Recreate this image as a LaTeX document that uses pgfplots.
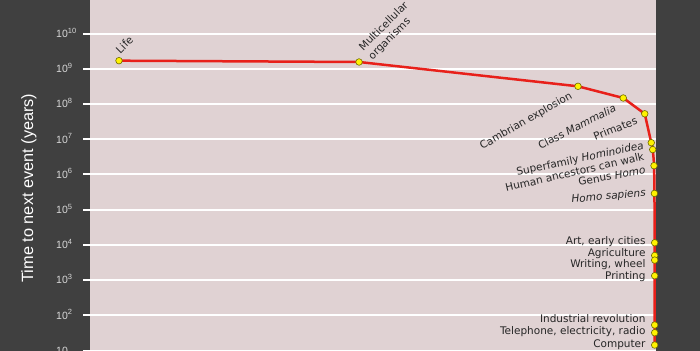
\documentclass[border=0pt]{standalone}
\usepackage{fontspec}
\setmainfont{DejaVu Sans}
\newfontfamily\arial{Liberation Sans}
\usepackage{pgfplots}
\pgfplotsset{compat=1.18}
\usetikzlibrary{calc}
\definecolor{bgdark}{HTML}{404040}
\definecolor{plotbg}{HTML}{E0D2D3}
\definecolor{linered}{HTML}{E8201A}
\definecolor{txt}{HTML}{262626}
\definecolor{ticktxt}{HTML}{D8D8D8}
\definecolor{markedge}{HTML}{6E6A00}
\newcommand{\ex}[1]{10\raisebox{0.42em}{\fontsize{7.5bp}{7.5bp}\selectfont #1}}
\tikzset{
  lbl/.style={font=\fontsize{10.5bp}{12.5bp}\selectfont, text=txt, inner sep=0.5bp, text height=7.7bp, text depth=2.2bp},
  lblm/.style={font=\fontsize{10.5bp}{13bp}\selectfont, text=txt, inner sep=0.5bp, align=left},
}
\begin{document}
\begin{tikzpicture}
\useasboundingbox (0,0) rectangle (700bp,351bp);
\clip (0,0) rectangle (700bp,351bp);
\fill[bgdark] (0,0) rectangle (700bp,351bp);
\begin{axis}[
  at={(90bp,0bp)}, anchor=south west,
  width=566bp, height=351bp, scale only axis,
  xmin=-4.2615, xmax=0.0038,
  ymode=log, ymin=9.68, ymax=9.06e10,
  axis background/.style={fill=plotbg},
  axis line style={draw=none},
  xtick=\empty,
  ytick={10,100,1000,1e4,1e5,1e6,1e7,1e8,1e9,1e10},
  yticklabels={10,\ex{2},\ex{3},\ex{4},\ex{5},\ex{6},\ex{7},\ex{8},\ex{9},\ex{10}},
  yminorticks=false,
  ymajorgrids,
  grid style={white, line width=2bp},
  tick pos=left, tick align=outside,
  major tick length=7bp,
  major tick style={white, line width=2bp},
  yticklabel style={font=\arial\fontsize{10.5bp}{12bp}\selectfont, text=ticktxt, anchor=west, xshift=-28bp, text height=7.6bp, text depth=0bp, inner sep=1bp},
  clip=false,
]
\addplot[linered, line width=2.5bp, sharp plot, forget plot]
  coordinates {
  (-4.043, 1.71e9)
  (-2.234, 1.57e9)
  (-0.584, 3.2e8)
  (-0.243, 1.49e8)
  (-0.081, 5.3e7)
  };
\addplot[linered, line width=2.5bp, smooth, tension=0.5, forget plot]
  coordinates {
  (-0.081, 5.3e7)
  (-0.032, 8.0e6)
  (-0.021, 5.1e6)
  (-0.011, 1.78e6)
  (-0.008, 2.9e5)
  (-0.006, 1.15e4)
  (-0.006, 5.0e3)
  (-0.006, 3.7e3)
  (-0.006, 1.33e3)
  (-0.006, 53)
  (-0.006, 32)
  (-0.006, 14.3)
  };
\addplot[only marks, mark=*, mark size=3.3bp,
  mark options={fill=yellow, draw=markedge, line width=0.6bp, solid}]
  coordinates {
  (-4.043, 1.71e9)
  (-2.234, 1.57e9)
  (-0.584, 3.2e8)
  (-0.243, 1.49e8)
  (-0.081, 5.3e7)
  (-0.032, 8.0e6)
  (-0.021, 5.1e6)
  (-0.011, 1.78e6)
  (-0.008, 2.9e5)
  (-0.006, 1.15e4)
  (-0.006, 5.0e3)
  (-0.006, 3.7e3)
  (-0.006, 1.33e3)
  (-0.006, 53)
  (-0.006, 32)
  (-0.006, 14.3)
  };
\node[lbl, rotate=45, anchor=south west] at ($(axis cs:-4.043,1.71e9)+(3bp,4bp)$) {Life};
\node[lblm, rotate=45, anchor=south west] at ($(axis cs:-2.234,1.57e9)+(15bp,-1bp)$) {Multicellular\\organisms};
\node[lbl, rotate=30, anchor=east] at ($(axis cs:-0.584,3.2e8)+(-6bp,-8.7bp)$) {Cambrian explosion};
\node[lbl, rotate=27, anchor=east] at ($(axis cs:-0.243,1.49e8)+(-7bp,-10bp)$) {Class \textit{Mammalia}};
\node[lbl, rotate=22, anchor=east] at ($(axis cs:-0.081,5.3e7)+(-7bp,-7bp)$) {Primates};
\node[lbl, rotate=12, anchor=east] at ($(axis cs:-0.032,8.0e6)+(-7bp,-3.3bp)$) {Superfamily \textit{Hominoidea}};
\node[lbl, rotate=13, anchor=east] at ($(axis cs:-0.021,5.1e6)+(-8bp,-7.3bp)$) {Human ancestors can walk};
\node[lbl, rotate=10, anchor=east] at ($(axis cs:-0.011,1.78e6)+(-8bp,-5.3bp)$) {Genus \textit{Homo}};
\node[lbl, rotate=5, anchor=east] at ($(axis cs:-0.008,2.9e5)+(-8bp,0bp)$) {\textit{Homo sapiens}};
\node[lbl, anchor=east] at ($(axis cs:-0.006,1.15e4)+(-8.5bp,0.7bp)$) {Art, early cities};
\node[lbl, anchor=east] at ($(axis cs:-0.006,5.0e3)+(-8.5bp,2bp)$) {Agriculture};
\node[lbl, anchor=east] at ($(axis cs:-0.006,3.7e3)+(-8.5bp,-4.7bp)$) {Writing, wheel};
\node[lbl, anchor=east] at ($(axis cs:-0.006,1.33e3)+(-8.5bp,-1.3bp)$) {Printing};
\node[lbl, anchor=east] at ($(axis cs:-0.006,53)+(-8.5bp,5bp)$) {Industrial revolution};
\node[lbl, anchor=east] at ($(axis cs:-0.006,32)+(-8.5bp,0.7bp)$) {Telephone, electricity, radio};
\node[lbl, anchor=east] at ($(axis cs:-0.006,14.3)+(-8.5bp,0.7bp)$) {Computer};
\end{axis}
\node[rotate=90, text=white, font=\arial\fontsize{16.3bp}{18bp}\selectfont] at (29bp,163bp) {Time to next event (years)};
\end{tikzpicture}
\end{document}
